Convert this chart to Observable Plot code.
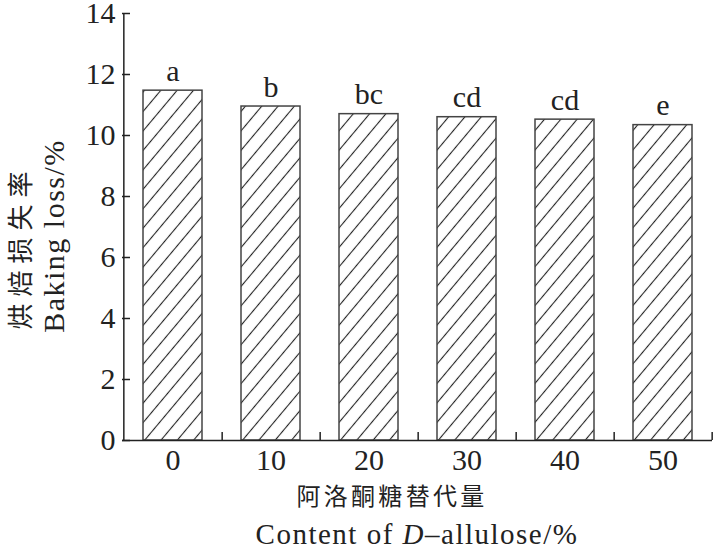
<!DOCTYPE html>
<html><head><meta charset="utf-8">
<script src="https://cdn.jsdelivr.net/npm/d3@7"></script>
<script src="https://cdn.jsdelivr.net/npm/@observablehq/plot@0.6"></script>
<style>body{margin:0;background:#fff} #chart{width:713px;height:551px}</style>
</head><body><div id="chart"></div>
<script>
const contents = ["0", "10", "20", "30", "40", "50"];
const losses = [11.47, 10.95, 10.70, 10.60, 10.52, 10.34];
const letters = ["a", "b", "bc", "cd", "cd", "e"];
const yTicks = [0, 2, 4, 6, 8, 10, 12, 14];
const yLabelZh = "烘焙损失率";
const yLabelEn = "Baking loss/%";
const xLabelZh = "阿洛酮糖替代量";
const xLabelEnPre = "Content of ";
const xLabelEnItalic = "D";
const xLabelEnPost = "–allulose/%";

const W = 713, H = 551, mL = 122, mR = 1, mT = 13, mB = 111;
const frameW = W - mL - mR;
const step = frameW / contents.length;
const data = contents.map((c, i) => ({content: c, loss: losses[i], sig: letters[i]}));
const serif = "'Liberation Serif','Times New Roman',serif";
const cjk = "'Noto Sans CJK SC',sans-serif";
const ink = "#222";

const defs = () => {
  const d = d3.create("svg:defs");
  const p = d.append("pattern").attr("id", "hatch").attr("patternUnits", "userSpaceOnUse")
    .attr("width", 12.5).attr("height", 12.5).attr("patternTransform", "rotate(40)");
  p.append("rect").attr("width", 12.5).attr("height", 12.5).attr("fill", "#fff");
  p.append("line").attr("x1", 6.25).attr("y1", -1).attr("x2", 6.25).attr("y2", 13.5)
    .attr("stroke", "#222").attr("stroke-width", 1.1);
  return d.node();
};

const chart = Plot.plot({
  width: W, height: H, marginLeft: mL, marginRight: mR, marginTop: mT, marginBottom: mB,
  style: {fontFamily: serif, color: ink, background: "#fff", overflow: "visible"},
  x: {domain: contents, paddingInner: 0.4, paddingOuter: 0.2, label: null},
  y: {domain: [0, 14], label: null},
  marks: [
    defs,
    Plot.barY(data, {x: "content", y: "loss", fill: "url(#hatch)", stroke: "#444", strokeWidth: 1.5}),
    Plot.text(data, {x: "content", y: "loss", text: "sig", dy: -10, lineAnchor: "bottom", fontSize: 30, fill: ink}),
    Plot.ruleY([0], {stroke: ink, strokeWidth: 1.5}),
    Plot.ruleX([contents[0]], {x: d => d, dx: -step / 2, y1: 0, y2: 14, stroke: ink, strokeWidth: 1.5}),
    Plot.ruleY(yTicks, {y: d => d, insetRight: frameW - 8, stroke: ink, strokeWidth: 1.5}),
    Plot.ruleX(contents, {x: d => d, dx: step / 2, y1: 0, y2: 0, insetTop: -8, stroke: ink, strokeWidth: 1.5}),
    Plot.axisY({ticks: yTicks, tickSize: 0, tickPadding: 7, fontSize: 30, label: null}),
    Plot.axisX({tickSize: 0, tickPadding: 8, fontSize: 30, label: null})
  ]
});

const svg = d3.select(chart);
svg.append("text").attr("transform", "translate(30,247) rotate(-90)")
  .attr("text-anchor", "middle").attr("font-family", cjk).attr("font-size", 26)
  .attr("letter-spacing", 7).attr("fill", ink).text(yLabelZh);
svg.append("text").attr("transform", "translate(64,236) rotate(-90)")
  .attr("text-anchor", "middle").attr("font-family", serif).attr("font-size", 30)
  .attr("letter-spacing", 1.5).attr("fill", ink).text(yLabelEn);
svg.append("text").attr("x", 392).attr("y", 505)
  .attr("text-anchor", "middle").attr("font-family", cjk).attr("font-size", 24)
  .attr("letter-spacing", 3.3).attr("fill", ink).text(xLabelZh);
const en = svg.append("text").attr("x", 417).attr("y", 544)
  .attr("text-anchor", "middle").attr("font-family", serif).attr("font-size", 29)
  .attr("letter-spacing", 1.5).attr("fill", ink);
en.append("tspan").text(xLabelEnPre);
en.append("tspan").attr("font-style", "italic").text(xLabelEnItalic);
en.append("tspan").text(xLabelEnPost);

document.getElementById("chart").append(chart);
</script></body></html>
